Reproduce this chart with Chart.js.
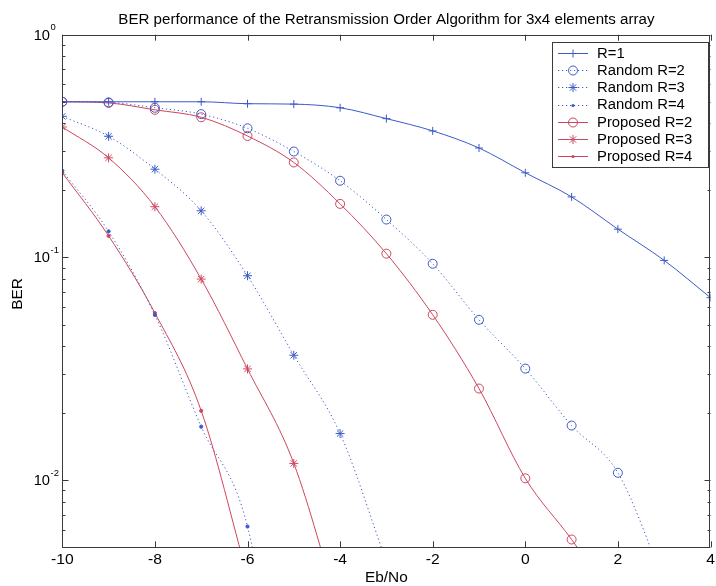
<!DOCTYPE html>
<html><head><meta charset="utf-8">
<script src="https://cdn.jsdelivr.net/npm/chart.js@4.4.0/dist/chart.umd.min.js"></script>
<style>html,body{margin:0;padding:0;background:#fff;}#wrap{width:716px;height:586px;}</style>
</head><body><div id="wrap"><canvas id="c" width="716" height="586"></canvas></div>
<script>
const ebno = [-10,-9,-8,-7,-6,-5,-4,-3,-2,-1,0,1,2,3,4];
const berR1 = [0.5,0.5,0.5,0.5,0.49,0.488,0.47,0.42,0.37,0.31,0.24,0.187,0.134,0.097,0.066];
const berRandomR2 = [0.5,0.497,0.47,0.44,0.38,0.299,0.221,0.148,0.0937,0.0525,0.0317,0.0176,0.0108,0.0035,null];
const berRandomR3 = [0.43,0.35,0.249,0.162,0.0828,0.0364,0.0162,0.0043,null,null,null,null,null,null,null];
const berRandomR4 = [0.245,0.131,0.0552,0.0174,0.0062,0.0004,null,null,null,null,null,null,null,null,null];
const berProposedR2 = [0.5,0.494,0.46,0.426,0.351,0.267,0.174,0.104,0.0553,0.0258,0.0102,0.00542,0.0027,null,null];
const berProposedR3 = [0.385,0.28,0.169,0.08,0.0316,0.0119,0.0025,null,null,null,null,null,null,null,null];
const berProposedR4 = [0.24,0.125,0.0563,0.0205,0.0037,null,null,null,null,null,null,null,null,null,null];
const seriesNames = ['R=1','Random R=2','Random R=3','Random R=4','Proposed R=2','Proposed R=3','Proposed R=4'];
const xTickValues = [-10,-8,-6,-4,-2,0,2,4];
const xTickLabels = ['-10','-8','-6','-4','-2','0','2','4'];
const yMajorTicks = [1,0.1,0.01];
const yTickExponents = ['0','-1','-2'];
const titleText = 'BER performance of the Retransmission Order Algorithm for 3x4 elements array';
const xTitle = 'Eb/No';
const yTitle = 'BER';

const BLUE = 'rgb(60,90,200)';
const RED = 'rgb(205,70,95)';
const FONT = '"Liberation Sans", Arial, sans-serif';

function pts(arr){ return ebno.map((x,i)=>({x:x,y:arr[i]})); }
function ds(label, arr, color, dashed, style, radius){
  return {label:label, data:pts(arr), borderColor:color, borderWidth:1, borderDash: dashed?[1.2,2.8]:[],
    pointStyle:style, pointRadius:radius, pointBorderColor:color, pointBackgroundColor: style==='circle'&&radius<3?color:'rgba(0,0,0,0)',
    pointBorderWidth:1, cubicInterpolationMode:'monotone', fill:false, spanGaps:false, _mk:style, _r:radius};
}
const datasets = [
  ds(seriesNames[0], berR1, BLUE, false, 'cross', 4),
  ds(seriesNames[1], berRandomR2, BLUE, true, 'circle', 4.5),
  ds(seriesNames[2], berRandomR3, BLUE, true, 'star', 4.5),
  ds(seriesNames[3], berRandomR4, BLUE, true, 'circle', 1.6),
  ds(seriesNames[4], berProposedR2, RED, false, 'circle', 4.5),
  ds(seriesNames[5], berProposedR3, RED, false, 'star', 4.5),
  ds(seriesNames[6], berProposedR4, RED, false, 'circle', 1.6)
];

function drawMarker(ctx, style, x, y, r, color){
  ctx.save(); ctx.strokeStyle=color; ctx.fillStyle=color; ctx.lineWidth=1; ctx.setLineDash([]);
  ctx.beginPath();
  if(style==='cross'){ ctx.moveTo(x-r,y); ctx.lineTo(x+r,y); ctx.moveTo(x,y-r); ctx.lineTo(x,y+r); ctx.stroke(); }
  else if(style==='star'){ ctx.moveTo(x-r,y); ctx.lineTo(x+r,y); ctx.moveTo(x,y-r); ctx.lineTo(x,y+r);
    const d=r*Math.SQRT1_2; ctx.moveTo(x-d,y-d); ctx.lineTo(x+d,y+d); ctx.moveTo(x-d,y+d); ctx.lineTo(x+d,y-d); ctx.stroke(); }
  else { ctx.arc(x,y,r,0,Math.PI*2); if(r<3){ctx.fill();} else ctx.stroke(); }
  ctx.restore();
}
function text(ctx, s, x, y, size, align, sx, rot){
  ctx.save(); ctx.translate(x,y); if(rot) ctx.rotate(rot); ctx.scale(sx,1);
  ctx.font=size+'px '+FONT; ctx.textAlign=align; ctx.textBaseline='middle'; ctx.fillStyle='#000';
  ctx.fillText(s,0,0); ctx.restore();
}

const decor = {
  id:'decor',
  afterDraw(chart){
    const ctx = chart.ctx, a = chart.chartArea, xs = chart.scales.x, ys = chart.scales.y;
    ctx.save();
    ctx.strokeStyle='#3a3a3a'; ctx.lineWidth=1;
    ctx.strokeRect(Math.round(a.left)+0.5, Math.round(a.top)+0.5, Math.round(a.right-a.left)-1, Math.round(a.bottom-a.top)-1);
    ctx.beginPath();
    xTickValues.forEach(v=>{ const px=Math.round(xs.getPixelForValue(v))+0.5;
      ctx.moveTo(px,a.bottom); ctx.lineTo(px,a.bottom-6); ctx.moveTo(px,a.top); ctx.lineTo(px,a.top+6); });
    const L=Math.round(a.left)+0.5, R=Math.round(a.right)-0.5;
    [0.001,0.01,0.1].forEach(dec=>{ for(let m=1;m<=9;m++){ const v=m*dec; if(v<0.005-1e-9||v>1+1e-9) continue;
      const py=Math.round(ys.getPixelForValue(v))+0.5; const len = m===1?6:3;
      ctx.moveTo(L,py); ctx.lineTo(L+len,py); ctx.moveTo(R,py); ctx.lineTo(R-len,py); } });
    const py1=Math.round(ys.getPixelForValue(1))+0.5; ctx.moveTo(L,py1); ctx.lineTo(L+6,py1); ctx.moveTo(R,py1); ctx.lineTo(R-6,py1);
    ctx.stroke();
    xTickValues.forEach((v,i)=>{ text(ctx, xTickLabels[i], xs.getPixelForValue(v), 560, 14, 'center', 1.12); });
    yMajorTicks.forEach((v,i)=>{ const py=ys.getPixelForValue(v);
      text(ctx,'10',50,py+1,14,'right',1.05);
      text(ctx,yTickExponents[i],50.5,py-7,9,'left',1.05); });
    text(ctx, xTitle, (a.left+a.right)/2, 578, 14, 'center', 1.1);
    text(ctx, yTitle, 18, (a.top+a.bottom)/2+3, 14, 'center', 1.1, -Math.PI/2);
    text(ctx, titleText, (a.left+a.right)/2, 20, 14, 'center', 1.08);
    const lx=552, ly=42, lw=156, lh=125;
    ctx.fillStyle='#fff'; ctx.fillRect(lx,ly,lw,lh);
    ctx.strokeStyle='#3a3a3a'; ctx.strokeRect(lx+0.5,ly+0.5,lw,lh);
    chart.data.datasets.forEach((d,i)=>{
      const y = 53 + i*17.2;
      ctx.save(); ctx.strokeStyle=d.borderColor; ctx.lineWidth=1; ctx.setLineDash(d.borderDash);
      ctx.beginPath(); ctx.moveTo(558,Math.round(y)+0.5); ctx.lineTo(588,Math.round(y)+0.5); ctx.stroke(); ctx.restore();
      drawMarker(ctx, d._mk, 573, Math.round(y)+0.5, d._r, d.borderColor);
      text(ctx, d.label, 597, y+1, 14, 'left', 1.06);
    });
    ctx.restore();
  }
};

new Chart(document.getElementById('c'), {
  type:'line',
  data:{datasets:datasets},
  options:{
    responsive:false, animation:false, devicePixelRatio:1,
    layout:{padding:{top:34.7,right:3,left:0,bottom:0}},
    plugins:{legend:{display:false}, tooltip:{enabled:false}, title:{display:false}},
    scales:{
      x:{type:'linear', min:-10, max:4,
        ticks:{display:false, stepSize:2},
        grid:{display:false, drawTicks:false}, border:{display:false},
        afterFit(s){ s.height = 38.7; }
      },
      y:{type:'logarithmic', min:0.005, max:1,
        ticks:{display:false},
        grid:{display:false, drawTicks:false}, border:{display:false},
        afterFit(s){ s.width = 62.3; }
      }
    }
  },
  plugins:[decor]
});
</script></body></html>
